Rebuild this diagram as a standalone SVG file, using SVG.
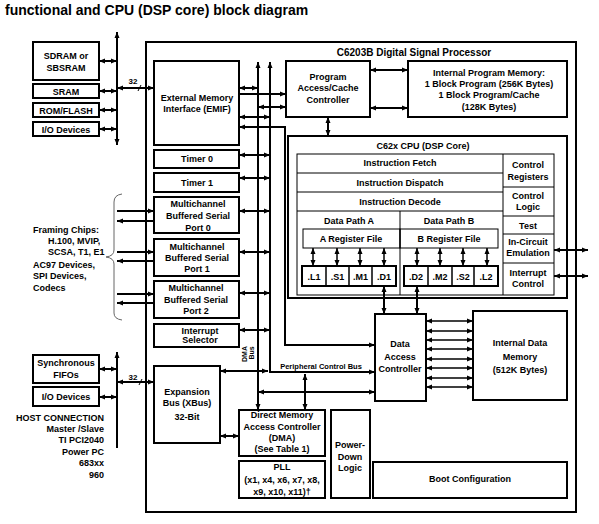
<svg xmlns="http://www.w3.org/2000/svg" width="599" height="524" viewBox="0 0 599 524">
<style>
text { font-family: "Liberation Sans", Arial, Helvetica, sans-serif; font-weight: bold; font-size: 9px; fill: #000; }
.c { text-anchor: middle; }
.e { text-anchor: end; }
.box { fill: #fff; stroke: #000; stroke-width: 2; }
.thin { fill: none; stroke: #000; stroke-width: 1; }
.w { fill: none; stroke: #000; stroke-width: 2; }
.m { fill: none; stroke: #000; stroke-width: 1.5; }
.a2 { marker-start: url(#ah); marker-end: url(#ah); }
.ae { marker-end: url(#ah); }
</style>
<defs>
<marker id="ah" viewBox="0 0 6 6" refX="6" refY="3" markerWidth="6" markerHeight="6" markerUnits="userSpaceOnUse" orient="auto-start-reverse">
<path d="M0,0.5 L6,3 L0,5.5 z" fill="#000"/>
</marker>
</defs>
<rect x="0" y="0" width="599" height="524" fill="#fff"/>
<text x="5" y="15" style="font-size:14px">functional and CPU (DSP core) block diagram</text>

<g id="dsp">
<rect x="146" y="42" width="430" height="470" class="box"/>
<text x="414" y="56" class="c" style="font-size:10px">C6203B Digital Signal Processor</text>
</g>

<g id="cpu">
<rect x="288" y="136" width="279" height="162" class="box"/>
<text x="423" y="149" class="c">C62x CPU (DSP Core)</text>
<rect x="297" y="154" width="257" height="141" class="thin"/>
<line x1="503" y1="154" x2="503" y2="295" class="thin"/>
<line x1="297" y1="173" x2="503" y2="173" class="thin"/>
<line x1="297" y1="192" x2="503" y2="192" class="thin"/>
<line x1="297" y1="211" x2="503" y2="211" class="thin"/>
<line x1="400" y1="211" x2="400" y2="295" class="thin"/>
<line x1="503" y1="187" x2="554" y2="187" class="thin"/>
<line x1="503" y1="216" x2="554" y2="216" class="thin"/>
<line x1="503" y1="234" x2="554" y2="234" class="thin"/>
<line x1="503" y1="263" x2="554" y2="263" class="thin"/>
<text x="400" y="166" class="c">Instruction Fetch</text>
<text x="400" y="186" class="c">Instruction Dispatch</text>
<text x="400" y="205" class="c">Instruction Decode</text>
<text x="349" y="224" class="c">Data Path A</text>
<text x="449" y="224" class="c">Data Path B</text>
<rect x="303" y="229" width="97" height="19" class="thin"/>
<rect x="400" y="229" width="98" height="19" class="thin"/>
<text x="351" y="242" class="c">A Register File</text>
<text x="449" y="242" class="c">B Register File</text>
<text x="528" y="168" class="c">Control</text>
<text x="528" y="180" class="c">Registers</text>
<text x="528" y="199" class="c">Control</text>
<text x="528" y="210" class="c">Logic</text>
<text x="528" y="229" class="c">Test</text>
<text x="528" y="245" class="c">In-Circuit</text>
<text x="528" y="256" class="c">Emulation</text>
<text x="528" y="276" class="c">Interrupt</text>
<text x="528" y="287" class="c">Control</text>
</g>

<g id="units-a">
<rect x="302" y="266" width="94" height="20" class="box"/>
<line x1="326" y1="266" x2="326" y2="286" class="m"/>
<line x1="349" y1="266" x2="349" y2="286" class="m"/>
<line x1="372" y1="266" x2="372" y2="286" class="m"/>
<text x="314" y="280" class="c">.L1</text>
<text x="337.5" y="280" class="c">.S1</text>
<text x="360.5" y="280" class="c">.M1</text>
<text x="384" y="280" class="c">.D1</text>
</g>
<g id="units-b">
<rect x="404" y="266" width="94" height="20" class="box"/>
<line x1="428" y1="266" x2="428" y2="286" class="m"/>
<line x1="452" y1="266" x2="452" y2="286" class="m"/>
<line x1="474" y1="266" x2="474" y2="286" class="m"/>
<text x="416" y="280" class="c">.D2</text>
<text x="440" y="280" class="c">.M2</text>
<text x="463" y="280" class="c">.S2</text>
<text x="486" y="280" class="c">.L2</text>
</g>

<g id="connectors">
<!-- external memory bus -->
<line x1="117" y1="32" x2="117" y2="145" class="w a2"/>
<line x1="99" y1="61" x2="117" y2="61" class="w a2"/>
<line x1="99" y1="91" x2="117" y2="91" class="w a2"/>
<line x1="99" y1="110" x2="117" y2="110" class="w a2"/>
<line x1="99" y1="129" x2="117" y2="129" class="w a2"/>
<line x1="117" y1="88" x2="154" y2="88" class="w a2"/>
<line x1="138" y1="91" x2="141" y2="85" stroke="#000" stroke-width="1"/>
<!-- McBSP external -->
<line x1="117" y1="211" x2="154" y2="211" class="w ae"/>
<line x1="154" y1="221" x2="117" y2="221" class="w ae"/>
<line x1="117" y1="252" x2="154" y2="252" class="w ae"/>
<line x1="154" y1="261" x2="117" y2="261" class="w ae"/>
<line x1="117" y1="294" x2="154" y2="294" class="w ae"/>
<line x1="154" y1="303" x2="117" y2="303" class="w ae"/>
<path d="M122,194 Q114,195 114,202 L114,250 Q114,256 106,257 Q114,258 114,264 L114,313 Q114,319 122,320" fill="none" stroke="#666" stroke-width="1"/>
<!-- expansion bus external -->
<line x1="117" y1="448" x2="117" y2="352" class="w ae"/>
<line x1="99" y1="369" x2="117" y2="369" class="w a2"/>
<line x1="99" y1="397" x2="117" y2="397" class="w a2"/>
<line x1="117" y1="382" x2="154" y2="382" class="w a2"/>
<line x1="139" y1="385" x2="142" y2="379" stroke="#000" stroke-width="1"/>
<!-- internal buses -->
<line x1="258" y1="62" x2="258" y2="410" class="w a2"/>
<path d="M270,62 V372 H375" class="w a2"/>
<line x1="239" y1="88" x2="258" y2="88" class="w a2"/>
<line x1="239" y1="94" x2="286" y2="94" class="w ae"/>
<line x1="258" y1="107" x2="286" y2="107" class="w a2"/>
<line x1="239" y1="117" x2="270" y2="117" class="w a2"/>
<path d="M239,127 H285 V345 H375" class="w a2"/>
<line x1="239" y1="155" x2="270" y2="155" class="w a2"/>
<line x1="239" y1="178" x2="270" y2="178" class="w a2"/>
<line x1="239" y1="211" x2="270" y2="211" class="w a2"/>
<line x1="239" y1="252" x2="270" y2="252" class="w a2"/>
<line x1="239" y1="293" x2="270" y2="293" class="w a2"/>
<line x1="239" y1="330" x2="270" y2="330" class="w a2"/>
<line x1="220" y1="371" x2="268" y2="371" class="w a2"/>
<line x1="258" y1="392" x2="375" y2="392" class="w a2"/>
<line x1="305" y1="374" x2="305" y2="410" class="w a2"/>
<line x1="220" y1="436" x2="239" y2="436" class="w a2"/>
<!-- program side -->
<line x1="370" y1="70" x2="408" y2="70" class="w a2"/>
<line x1="370" y1="108" x2="408" y2="108" class="w a2"/>
<line x1="328" y1="117" x2="328" y2="136" class="w a2"/>
<!-- register file to units -->
<line x1="313" y1="248" x2="313" y2="266" class="m a2"/>
<line x1="337" y1="248" x2="337" y2="266" class="m a2"/>
<line x1="360" y1="248" x2="360" y2="266" class="m a2"/>
<line x1="384" y1="248" x2="384" y2="266" class="m a2"/>
<line x1="417" y1="248" x2="417" y2="266" class="m a2"/>
<line x1="440" y1="248" x2="440" y2="266" class="m a2"/>
<line x1="463" y1="248" x2="463" y2="266" class="m a2"/>
<line x1="487" y1="248" x2="487" y2="266" class="m a2"/>
<line x1="384" y1="286" x2="384" y2="314" class="w a2"/>
<line x1="417" y1="286" x2="417" y2="314" class="w a2"/>
<!-- emulation / interrupt -->
<line x1="554" y1="250" x2="588" y2="250" class="w a2"/>
<line x1="554" y1="276" x2="588" y2="276" class="w a2"/>
<!-- DAC to internal data memory -->
<line x1="426" y1="321" x2="473" y2="321" class="m a2"/>
<line x1="426" y1="331" x2="473" y2="331" class="m a2"/>
<line x1="426" y1="340" x2="473" y2="340" class="m a2"/>
<line x1="426" y1="349" x2="473" y2="349" class="m a2"/>
<line x1="426" y1="359" x2="473" y2="359" class="m a2"/>
<line x1="426" y1="368" x2="473" y2="368" class="m a2"/>
<line x1="426" y1="378" x2="473" y2="378" class="m a2"/>
<line x1="426" y1="387" x2="473" y2="387" class="m a2"/>
<!-- labels -->
<text x="133" y="84" class="c" style="font-size:8px">32</text>
<text x="133" y="380" class="c" style="font-size:8px">32</text>
<text x="321" y="369" class="c" style="font-size:7.5px">Peripheral Control Bus</text>
<text transform="translate(247,354) rotate(-90)" class="c" style="font-size:7px">DMA</text>
<text transform="translate(254,353) rotate(-90)" class="c" style="font-size:7px">Bus</text>
</g>

<g id="sdram"><rect x="33" y="42" width="66" height="38" class="box"/><text x="66" y="59" class="c">SDRAM or</text><text x="66" y="71" class="c">SBSRAM</text></g>
<g id="sram"><rect x="33" y="84" width="66" height="14" class="box"/><text x="66" y="94.5" class="c">SRAM</text></g>
<g id="rom"><rect x="33" y="103" width="66" height="14" class="box"/><text x="66" y="113.5" class="c">ROM/FLASH</text></g>
<g id="io1"><rect x="33" y="122" width="66" height="14" class="box"/><text x="66" y="132.5" class="c">I/O Devices</text></g>

<g id="framing">
<text x="33" y="233">Framing Chips:</text>
<text x="48" y="244">H.100, MVIP,</text>
<text x="48" y="255">SCSA, T1, E1</text>
<text x="33" y="268">AC97 Devices,</text>
<text x="33" y="279">SPI Devices,</text>
<text x="33" y="291">Codecs</text>
</g>

<g id="fifo"><rect x="33" y="355" width="66" height="28" class="box"/><text x="66" y="366" class="c">Synchronous</text><text x="66" y="378" class="c">FIFOs</text></g>
<g id="io2"><rect x="33" y="387" width="66" height="19" class="box"/><text x="66" y="400" class="c">I/O Devices</text></g>
<g id="host">
<text x="104" y="421" class="e">HOST CONNECTION</text>
<text x="104" y="432" class="e">Master /Slave</text>
<text x="104" y="443" class="e">TI PCI2040</text>
<text x="104" y="455" class="e">Power PC</text>
<text x="104" y="466" class="e">683xx</text>
<text x="104" y="478" class="e">960</text>
</g>

<g id="emif"><rect x="154" y="61" width="85" height="84" class="box"/><text x="197" y="101" class="c">External Memory</text><text x="197" y="112" class="c">Interface (EMIF)</text></g>
<g id="timer0"><rect x="154" y="150" width="85" height="18" class="box"/><text x="197" y="162" class="c">Timer 0</text></g>
<g id="timer1"><rect x="154" y="173" width="85" height="19" class="box"/><text x="197" y="186" class="c">Timer 1</text></g>
<g id="mcbsp0"><rect x="154" y="197" width="85" height="36" class="box"/><text x="198" y="207" class="c">Multichannel</text><text x="198" y="219" class="c">Buffered Serial</text><text x="198" y="231" class="c">Port 0</text></g>
<g id="mcbsp1"><rect x="154" y="239" width="85" height="37" class="box"/><text x="197" y="250" class="c">Multichannel</text><text x="197" y="261" class="c">Buffered Serial</text><text x="197" y="272" class="c">Port 1</text></g>
<g id="mcbsp2"><rect x="154" y="281" width="85" height="37" class="box"/><text x="196" y="291" class="c">Multichannel</text><text x="196" y="303" class="c">Buffered Serial</text><text x="196" y="314" class="c">Port 2</text></g>
<g id="intsel"><rect x="154" y="324" width="85" height="23" class="box"/><text x="200" y="334" class="c">Interrupt</text><text x="200" y="343" class="c">Selector</text></g>
<g id="xbus"><rect x="154" y="366" width="66" height="77" class="box"/><text x="187" y="395" class="c">Expansion</text><text x="187" y="406" class="c">Bus (XBus)</text><text x="187" y="420" class="c">32-Bit</text></g>
<g id="dma"><rect x="239" y="410" width="86" height="46" class="box"/><text x="282" y="418" class="c">Direct Memory</text><text x="282" y="430" class="c">Access Controller</text><text x="282" y="441" class="c">(DMA)</text><text x="282" y="452" class="c">(See Table 1)</text></g>
<g id="pll"><rect x="239" y="461" width="86" height="37" class="box"/><text x="282" y="470" class="c">PLL</text><text x="282" y="483" class="c">(x1, x4, x6, x7, x8,</text><text x="282" y="495" class="c">x9, x10, x11)†</text></g>
<g id="powerdown"><rect x="331" y="410" width="39" height="88" class="box"/><text x="350" y="448" class="c">Power-</text><text x="350" y="460" class="c">Down</text><text x="350" y="471" class="c">Logic</text></g>
<g id="boot"><rect x="373" y="462" width="194" height="36" class="box"/><text x="470" y="482" class="c">Boot Configuration</text></g>
<g id="dac"><rect x="375" y="314" width="51" height="87" class="box"/><text x="400" y="347" class="c">Data</text><text x="400" y="360" class="c">Access</text><text x="400" y="372" class="c">Controller</text></g>
<g id="idm"><rect x="473" y="311" width="94" height="89" class="box"/><text x="520" y="346" class="c">Internal Data</text><text x="520" y="360" class="c">Memory</text><text x="520" y="373" class="c">(512K Bytes)</text></g>
<g id="pacc"><rect x="286" y="61" width="84" height="56" class="box"/><text x="328" y="80" class="c">Program</text><text x="328" y="91" class="c">Access/Cache</text><text x="328" y="103" class="c">Controller</text></g>
<g id="ipm"><rect x="408" y="61" width="159" height="56" class="box"/><text x="489" y="76" class="c">Internal Program Memory:</text><text x="489" y="87" class="c">1 Block Program (256K Bytes)</text><text x="489" y="98" class="c">1 Block Program/Cache</text><text x="489" y="110" class="c">(128K Bytes)</text></g>
</svg>
